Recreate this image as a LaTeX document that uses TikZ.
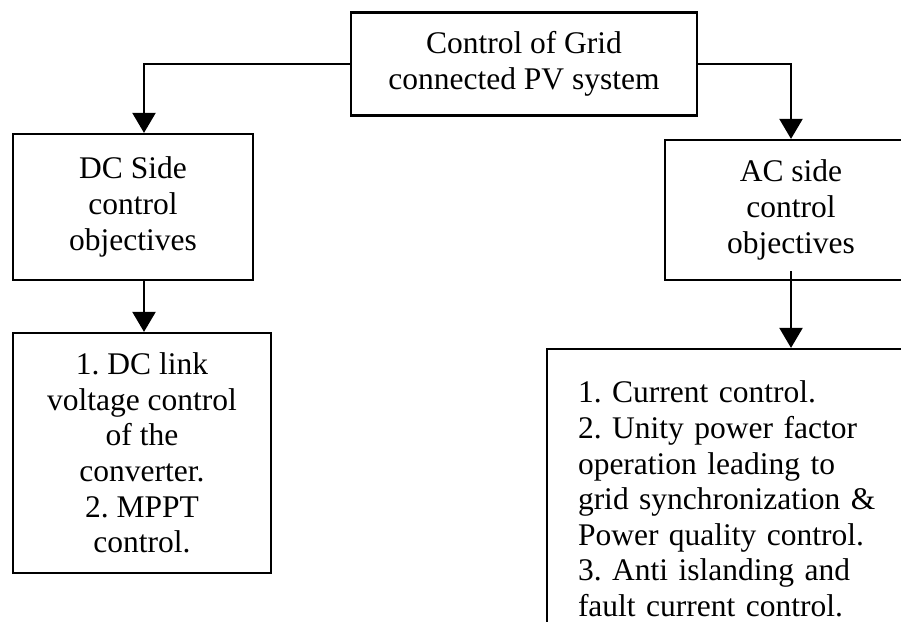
\documentclass[tikz,border=0pt]{standalone}
\usepackage{fontspec}
\setmainfont{Liberation Serif}
\usetikzlibrary{arrows.meta,calc}
\begin{document}
\begin{tikzpicture}[x=1pt,y=-1pt,
  box/.style={draw=black,line width=2.2pt,rectangle,inner sep=0pt,
    font=\fontsize{31.5}{35.6}\selectfont\frenchspacing,align=center},
  arr/.style={line width=2.2pt,-{Triangle[width=23pt,length=20pt]}}]
\useasboundingbox (0,0) rectangle (901,621);
\fill[white] (0,0) rectangle (901,621);
\clip (0,0) rectangle (901,621);
\node[box,minimum width=346pt,minimum height=103pt] (top) at (524,64)
  {Control of Grid\\connected PV system};
\node[box,minimum width=240pt,minimum height=146pt] (dc) at (133,207)
  {DC Side\\control\\objectives};
\node[box,minimum width=258pt,minimum height=240pt] (dcb) at (142,453)
  {1. DC link\\voltage control\\of the\\converter.\\2. MPPT\\control.};
\node[box,minimum width=252pt,minimum height=140pt] (ac) at (791,210)
  {AC side\\control\\objectives};
\node[box,minimum width=380pt,minimum height=300pt,align=left,
  text width=318pt] (acb) at (737,499)
  {1. Current control.\\2. Unity power factor\\operation leading to\\grid synchronization \&\\Power quality control.\\3. Anti islanding and\\fault current control.};
\draw[arr] (top.west) -| ([xshift=11pt]dc.north);
\draw[arr] ([xshift=11pt]dc.south) -- ([xshift=2pt]dcb.north);
\draw[arr] (top.east) -| (ac.north);
\draw[arr] ([yshift=10pt]ac.south) -- (ac.south |- acb.north);
\end{tikzpicture}
\end{document}
